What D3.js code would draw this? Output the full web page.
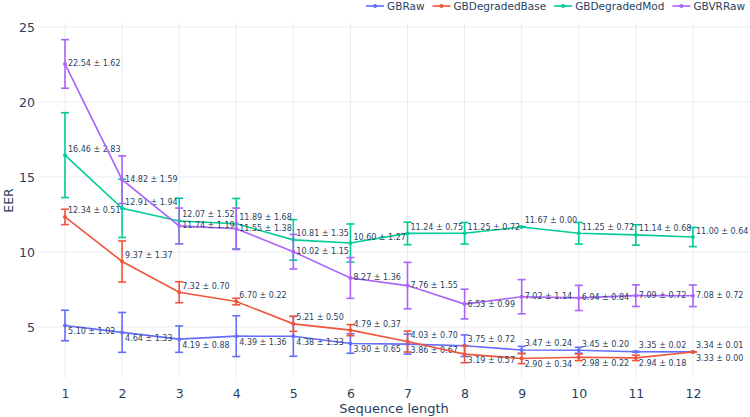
<!DOCTYPE html>
<html>
<head>
<meta charset="utf-8">
<script src="https://cdn.jsdelivr.net/npm/d3@7"></script>
<style>
  body { margin: 0; background: #fff; }
  svg { display: block; font-family: "DejaVu Sans", Verdana, sans-serif; }
</style>
</head>
<body>
<div id="chart"></div>
<script>
var width = 750, height = 417;

// data
var seqLength = [1, 2, 3, 4, 5, 6, 7, 8, 9, 10, 11, 12];
var seriesNames = ["GBRaw", "GBDegradedBase", "GBDegradedMod", "GBVRRaw"];
var seriesColors = ["#636efa", "#EF553B", "#00cc96", "#ab63fa"];

var gbRaw = [5.10, 4.64, 4.19, 4.39, 4.38, 3.90, 3.86, 3.75, 3.47, 3.45, 3.35, 3.34];
var gbRawErr = [1.02, 1.33, 0.88, 1.36, 1.33, 0.65, 0.67, 0.72, 0.24, 0.20, 0.02, 0.01];
var gbDegBase = [12.34, 9.37, 7.32, 6.70, 5.21, 4.79, 4.03, 3.19, 2.90, 2.98, 2.94, 3.33];
var gbDegBaseErr = [0.51, 1.37, 0.70, 0.22, 0.50, 0.37, 0.70, 0.57, 0.34, 0.22, 0.18, 0.00];
var gbDegMod = [16.46, 12.91, 12.07, 11.89, 10.81, 10.60, 11.24, 11.25, 11.67, 11.25, 11.14, 11.00];
var gbDegModErr = [2.83, 1.94, 1.52, 1.68, 1.35, 1.27, 0.75, 0.72, 0.00, 0.72, 0.68, 0.64];
var gbVRRaw = [22.54, 14.82, 11.74, 11.55, 10.02, 8.27, 7.76, 6.53, 7.02, 6.94, 7.09, 7.08];
var gbVRRawErr = [1.62, 1.59, 1.19, 1.38, 1.15, 1.36, 1.55, 0.99, 1.14, 0.84, 0.72, 0.72];

var xTicks = [1, 2, 3, 4, 5, 6, 7, 8, 9, 10, 11, 12];
var yTicks = [5, 10, 15, 20, 25];

var values = [gbRaw, gbDegBase, gbDegMod, gbVRRaw];
var errors = [gbRawErr, gbDegBaseErr, gbDegModErr, gbVRRawErr];

var plot = { left: 38, right: 750, top: 23, bottom: 378 };
var textColor = "#2a3f5f";
var gridColor = "#e9ebf0";

var x = d3.scaleLinear().domain([0.527, 13.0]).range([plot.left, plot.right]);
var y = d3.scaleLinear().domain([1.6, 25.27]).range([plot.bottom, plot.top]);

var svg = d3.select("#chart")
  .append("svg")
  .attr("width", width)
  .attr("height", height);

// grid
svg.append("g")
  .selectAll("line")
  .data(xTicks)
  .join("line")
  .attr("x1", d => x(d)).attr("x2", d => x(d))
  .attr("y1", plot.top).attr("y2", plot.bottom)
  .style("stroke", gridColor).style("stroke-width", 1);

svg.append("g")
  .selectAll("line")
  .data(yTicks)
  .join("line")
  .attr("x1", plot.left).attr("x2", plot.right)
  .attr("y1", d => y(d)).attr("y2", d => y(d))
  .style("stroke", gridColor).style("stroke-width", 1);

// axes
var xAxis = svg.append("g")
  .attr("transform", "translate(0," + plot.bottom + ")")
  .call(d3.axisBottom(x).tickValues(xTicks).tickSize(0).tickPadding(11));
var yAxis = svg.append("g")
  .attr("transform", "translate(" + plot.left + ",0)")
  .call(d3.axisLeft(y).tickValues(yTicks).tickSize(0).tickPadding(3));
[xAxis, yAxis].forEach(function (a) {
  a.select(".domain").remove();
  a.selectAll("text")
    .style("font-family", "DejaVu Sans, sans-serif")
    .style("font-size", "12.5px")
    .style("fill", textColor);
});

svg.append("text")
  .attr("x", (plot.left + plot.right) / 2)
  .attr("y", 408)
  .style("font-size", "13px")
  .style("fill", textColor)
  .style("text-anchor", "middle")
  .attr("dominant-baseline", "central")
  .text("Sequence length");

svg.append("text")
  .attr("transform", "translate(8," + (plot.top + plot.bottom) / 2 + ") rotate(-90)")
  .style("font-size", "12.5px")
  .style("fill", textColor)
  .style("text-anchor", "middle")
  .attr("dominant-baseline", "central")
  .text("EER");

var line = d3.line()
  .x(function (d, i) { return x(seqLength[i]); })
  .y(function (d) { return y(d); });

// label placement: GBRaw / GBDegradedBase share the low band, the higher one goes on top
function labelShift(s, i) {
  if (s === 3) return 0;
  if (s === 2) return -6;
  var other = s === 0 ? gbDegBase[i] : gbRaw[i];
  return values[s][i] >= other ? -6 : 6;
}

values.forEach(function (vals, s) {
  var g = svg.append("g");
  var color = seriesColors[s];
  var errs = errors[s];

  var eb = g.append("g").selectAll("g")
    .data(vals)
    .join("g");
  eb.append("line")
    .attr("x1", (d, i) => x(seqLength[i])).attr("x2", (d, i) => x(seqLength[i]))
    .attr("y1", (d, i) => y(d - errs[i])).attr("y2", (d, i) => y(d + errs[i]))
    .style("stroke", color).style("stroke-width", 1.6);
  eb.append("line")
    .attr("x1", (d, i) => x(seqLength[i]) - 4).attr("x2", (d, i) => x(seqLength[i]) + 4)
    .attr("y1", (d, i) => y(d - errs[i])).attr("y2", (d, i) => y(d - errs[i]))
    .style("stroke", color).style("stroke-width", 1.6);
  eb.append("line")
    .attr("x1", (d, i) => x(seqLength[i]) - 4).attr("x2", (d, i) => x(seqLength[i]) + 4)
    .attr("y1", (d, i) => y(d + errs[i])).attr("y2", (d, i) => y(d + errs[i]))
    .style("stroke", color).style("stroke-width", 1.6);

  g.append("path")
    .datum(vals)
    .attr("d", line)
    .style("fill", "none")
    .style("stroke", color)
    .style("stroke-width", 1.6);

  g.append("g").selectAll("circle")
    .data(vals)
    .join("circle")
    .attr("cx", (d, i) => x(seqLength[i]))
    .attr("cy", d => y(d))
    .attr("r", 2)
    .style("fill", color);

  g.append("g").selectAll("text")
    .data(vals)
    .join("text")
    .attr("x", (d, i) => x(seqLength[i]) + 3)
    .attr("y", (d, i) => y(d) + labelShift(s, i))
    .attr("dominant-baseline", "central")
    .style("font-size", "8px")
    .style("fill", textColor)
    .text((d, i) => d.toFixed(2) + " \u00b1 " + errs[i].toFixed(2));
});

// legend, right aligned at the top
var legend = svg.append("g");
var items = legend.selectAll("g")
  .data(seriesNames)
  .join("g");
items.append("line")
  .attr("x1", 0).attr("x2", 18).attr("y1", 0).attr("y2", 0)
  .style("stroke", (d, i) => seriesColors[i]).style("stroke-width", 1.6);
items.append("circle")
  .attr("cx", 9).attr("cy", 0).attr("r", 2)
  .style("fill", (d, i) => seriesColors[i]);
items.append("text")
  .attr("x", 21).attr("y", 0)
  .attr("dominant-baseline", "central")
  .style("font-size", "10.5px")
  .style("fill", textColor)
  .text(d => d);

var cursor = 0;
items.each(function () {
  var w = 21 + this.querySelector("text").getComputedTextLength();
  d3.select(this).attr("transform", "translate(" + cursor + ",0)");
  cursor += w + 8;
});
legend.attr("transform", "translate(" + (745 - (cursor - 8)) + ",6)");
</script>
</body>
</html>
